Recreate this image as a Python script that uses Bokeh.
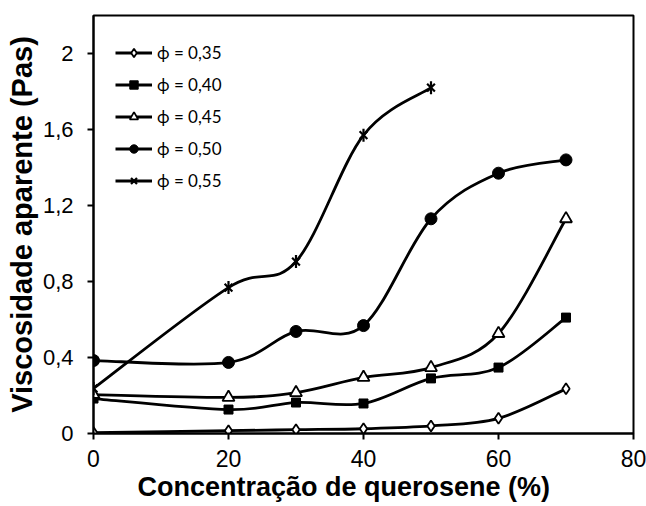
from bokeh.plotting import figure
from bokeh.models import FixedTicker, Legend, LegendItem, Range1d, ColumnDataSource, Title
from bokeh.embed import file_html
from bokeh.resources import INLINE

# ---- data ----
conc = [0, 20, 30, 40, 50, 60, 70]
phi_035 = [0.005, 0.015, 0.02, 0.025, 0.04, 0.08, 0.235]
phi_040 = [0.184, 0.126, 0.163, 0.158, 0.29, 0.347, 0.61]
phi_045 = [0.205, 0.19, 0.215, 0.295, 0.347, 0.526, 1.13]
phi_050 = [0.384, 0.374, 0.537, 0.568, 1.13, 1.37, 1.44]
conc_055 = [0, 20, 30, 40, 50]
phi_055 = [0.237, 0.768, 0.905, 1.57, 1.82]

labels = ["ϕ = 0,35", "ϕ = 0,40", "ϕ = 0,45", "ϕ = 0,50", "ϕ = 0,55"]
y_ticks = [0, 0.4, 0.8, 1.2, 1.6, 2.0]
y_tick_labels = ["0", "0,4", "0,8", "1,2", "1,6", "2"]
x_ticks = [0, 20, 40, 60, 80]
x_title = "Concentração de querosene (%)"
y_title = "Viscosidade aparente (Pas)"

p = figure(width=646, height=506, output_backend="svg", toolbar_location=None,
           x_range=Range1d(0, 80), y_range=Range1d(0, 2.2),
           min_border_left=93, min_border_right=13, min_border_top=15, min_border_bottom=73)
p.grid.visible = False
p.outline_line_color = "black"
p.outline_line_width = 2
p.background_fill_color = "white"
p.border_fill_color = "white"

for ax in (p.xaxis[0], p.yaxis[0]):
    ax.axis_line_width = 2
    ax.axis_line_color = "black"
    ax.major_tick_line_width = 2
    ax.major_tick_out = 6
    ax.major_tick_in = 0
    ax.minor_tick_line_color = None
    ax.major_label_text_font = "Liberation Sans"
    ax.major_label_text_color = "black"
    ax.axis_label_text_font = "Liberation Sans"
    ax.axis_label_text_font_style = "bold"
    ax.axis_label_text_color = "black"

p.xaxis.major_label_text_font_size = "23px"
p.yaxis.major_label_text_font_size = "22px"
p.xaxis.ticker = FixedTicker(ticks=x_ticks)
p.yaxis.ticker = FixedTicker(ticks=y_ticks)
p.yaxis.major_label_overrides = {t: l for t, l in zip(y_ticks, y_tick_labels)}
p.yaxis.axis_label = y_title
p.yaxis.axis_label_text_font_size = "29px"
p.xaxis.major_label_standoff = 10
p.yaxis.major_label_standoff = 14
p.yaxis.axis_label_standoff = 2

# x title placed like the reference (slightly left of the frame centre)
p.add_layout(Title(text=x_title, align="left", offset=44, standoff=0,
                   text_font="Liberation Sans", text_font_style="bold",
                   text_font_size="27px", text_color="black"), "below")


def smooth_source(xs, ys):
    """Catmull-Rom style bezier segments (like Excel's smoothed line)."""
    n = len(xs)
    d = dict(x0=[], y0=[], x1=[], y1=[], cx0=[], cy0=[], cx1=[], cy1=[])
    for i in range(n - 1):
        xa, ya = (xs[i - 1], ys[i - 1]) if i > 0 else (xs[i], ys[i])
        xb, yb = xs[i], ys[i]
        xc, yc = xs[i + 1], ys[i + 1]
        xd, yd = (xs[i + 2], ys[i + 2]) if i + 2 < n else (xc, yc)
        d["x0"].append(xb); d["y0"].append(yb)
        d["x1"].append(xc); d["y1"].append(yc)
        d["cx0"].append(xb + (xc - xa) / 6.0); d["cy0"].append(yb + (yc - ya) / 6.0)
        d["cx1"].append(xc - (xd - xb) / 6.0); d["cy1"].append(yc - (yd - yb) / 6.0)
    return ColumnDataSource(d)


series = [
    (conc, phi_035, [dict(marker="diamond", size=11, fill_color="white", line_width=1.8)]),
    (conc, phi_040, [dict(marker="square", size=9, fill_color="black", line_width=1)]),
    (conc, phi_045, [dict(marker="triangle", size=12, fill_color="white", line_width=1.8)]),
    (conc, phi_050, [dict(marker="circle", size=12, fill_color="black", line_width=1)]),
    (conc_055, phi_055, [dict(marker="x", size=11, line_width=2.2),
                         dict(marker="dash", size=13, angle=1.5708, line_width=2.2)]),
]

items = []
for (xs, ys, mks), lab in zip(series, labels):
    src = smooth_source(xs, ys)
    r_line = p.bezier(x0="x0", y0="y0", x1="x1", y1="y1", cx0="cx0", cy0="cy0",
                      cx1="cx1", cy1="cy1", source=src, line_color="black", line_width=2.8)
    rs = [r_line]
    for mk in mks:
        rs.append(p.scatter(xs, ys, line_color="black", **mk))
    items.append(LegendItem(label=lab, renderers=rs))

legend = Legend(items=items, location=(22, 242))
legend.border_line_color = None
legend.background_fill_alpha = 0
legend.padding = 0
legend.margin = 0
legend.glyph_width = 37
legend.glyph_height = 21
legend.label_height = 21
legend.spacing = 11
legend.label_standoff = 5
legend.label_text_font = "Lato"
legend.label_text_font_size = "17px"
legend.label_text_color = "black"
p.add_layout(legend)

open("out.html", "w").write(file_html(p, INLINE))
